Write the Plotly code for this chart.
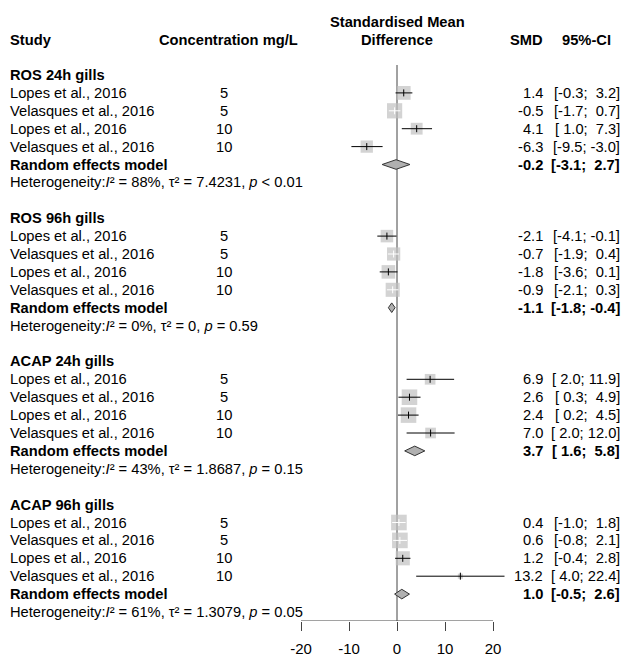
import plotly.graph_objects as go

# ---------------- data ----------------
groups = ["ROS 24h gills", "ROS 96h gills", "ACAP 24h gills", "ACAP 96h gills"]
studies = ["Lopes et al., 2016", "Velasques et al., 2016",
           "Lopes et al., 2016", "Velasques et al., 2016"]
concentrations = ["5", "5", "10", "10"]

smd = [[1.4, -0.5, 4.1, -6.3],
       [-2.1, -0.7, -1.8, -0.9],
       [6.9, 2.6, 2.4, 7.0],
       [0.4, 0.6, 1.2, 13.2]]
ci_lower = [[-0.3, -1.7, 1.0, -9.5],
            [-4.1, -1.9, -3.6, -2.1],
            [2.0, 0.3, 0.2, 2.0],
            [-1.0, -0.8, -0.4, 4.0]]
ci_upper = [[3.2, 0.7, 7.3, -3.0],
            [-0.1, 0.4, 0.1, 0.3],
            [11.9, 4.9, 4.5, 12.0],
            [1.8, 2.1, 2.8, 22.4]]
# relative weights (%) within each subgroup, estimated from square areas
weights = [[26.6, 32.6, 19.6, 21.2],
           [22.0, 24.5, 25.8, 27.7],
           [16.0, 34.0, 34.0, 16.0],
           [34.2, 34.2, 28.0, 3.6]]

re_est = [-0.2, -1.1, 3.7, 1.0]
re_lower = [-3.1, -1.8, 1.6, -0.5]
re_upper = [2.7, -0.4, 5.8, 2.6]

het_i2 = ["88%", "0%", "43%", "61%"]
het_tau2 = ["7.4231", "0", "1.8687", "1.3079"]
het_p = ["&lt; 0.01", "= 0.59", "= 0.15", "= 0.05"]

tick_vals = [-20, -10, 0, 10, 20]
tick_text = ["-20", "-10", "0", "10", "20"]

# ---------------- geometry ----------------
W, H = 624, 657
PX_PER_UNIT = 4.8
ZERO_PX = 397.0
ROW0_PX = 75.0
ROW_H = 17.9
AXIS_PX = 621.0

x_dom_px = (270.0, 520.0)
x_range = [(x_dom_px[0] - ZERO_PX) / PX_PER_UNIT, (x_dom_px[1] - ZERO_PX) / PX_PER_UNIT]
y_top_row = (0 - ROW0_PX) / ROW_H
y_bot_row = (AXIS_PX - ROW0_PX) / ROW_H

FONT = "Liberation Sans, Arial, Helvetica, sans-serif"
FS = 14.7
SQ_K = 2.67
SQUARE_COLOR = "#c0c0c0"
DIAMOND_FILL = "#b0b0b0"

fig = go.Figure()

sq_x, sq_y, sq_s = [], [], []
blk_x, blk_y, wht_x, wht_y = [], [], [], []
blk_tx, blk_ty, wht_tx, wht_ty = [], [], [], []
annotations = []


def ann(px, row, text, anchor="left", bold=False, size=FS):
    if bold:
        text = "<b>" + text + "</b>"
    annotations.append(dict(
        x=px / W, xref="paper", y=row, yref="y", text=text,
        xanchor=anchor, yanchor="middle", showarrow=False,
        borderpad=0, borderwidth=0,
        font=dict(family=FONT, size=size, color="#000000")))


def fmt_ci(lo, hi):
    return ("[%4.1f; %4.1f]" % (lo, hi)).replace(" ", "\u00a0")


# headers
HDR_ROW = (40 - ROW0_PX) / ROW_H
HDR_ROW2 = (22 - ROW0_PX) / ROW_H
ann(10, HDR_ROW, "Study", bold=True)
ann(228, HDR_ROW, "Concentration mg/L", anchor="center", bold=True)
ann(ZERO_PX, HDR_ROW2, "Standardised Mean", anchor="center", bold=True)
ann(ZERO_PX, HDR_ROW, "Difference", anchor="center", bold=True)
ann(543, HDR_ROW, "SMD", anchor="right", bold=True)
ann(611, HDR_ROW, "95%-CI", anchor="right", bold=True)

for g, gname in enumerate(groups):
    base = 8 * g
    ann(10, base, gname, bold=True)
    for i in range(4):
        r = base + 1 + i
        est, lo, hi = smd[g][i], ci_lower[g][i], ci_upper[g][i]
        size = SQ_K * weights[g][i] ** 0.5
        sq_x.append(est); sq_y.append(r); sq_s.append(size)
        half = size / 2 / PX_PER_UNIT
        inside = (lo >= est - half) and (hi <= est + half)
        if inside:
            wht_x += [lo, hi, None]; wht_y += [r, r, None]
            wht_tx.append(est); wht_ty.append(r)
        else:
            blk_x += [lo, hi, None]; blk_y += [r, r, None]
            blk_tx.append(est); blk_ty.append(r)
        ann(10, r, studies[i])
        ann(224, r, concentrations[i], anchor="center")
        ann(543, r, "%.1f" % est, anchor="right")
        ann(620, r, fmt_ci(lo, hi), anchor="right")
    r = base + 5
    ann(10, r, "Random effects model", bold=True)
    ann(543, r, "%.1f" % re_est[g], anchor="right", bold=True)
    ann(620, r, fmt_ci(re_lower[g], re_upper[g]), anchor="right", bold=True)
    dh = 4.8 / ROW_H
    fig.add_trace(go.Scatter(
        x=[re_lower[g], re_est[g], re_upper[g], re_est[g], re_lower[g]],
        y=[r, r - dh, r, r + dh, r],
        mode="lines", fill="toself", fillcolor=DIAMOND_FILL,
        line=dict(color="#333333", width=1), hoverinfo="skip", showlegend=False))
    het = ("Heterogeneity:<i>I</i>\u00b2 = %s, \u03c4\u00b2 = %s, <i>p</i> %s"
           % (het_i2[g], het_tau2[g], het_p[g]))
    ann(10, base + 6, het, size=14.7)

# squares
fig.add_trace(go.Scatter(
    x=sq_x, y=sq_y, mode="markers",
    marker=dict(symbol="square", size=sq_s, color=SQUARE_COLOR, line=dict(width=0)),
    hoverinfo="skip", showlegend=False))
# CI lines
fig.add_trace(go.Scatter(x=blk_x, y=blk_y, mode="lines",
                         line=dict(color="#000000", width=1),
                         hoverinfo="skip", showlegend=False))
fig.add_trace(go.Scatter(x=wht_x, y=wht_y, mode="lines",
                         line=dict(color="#ffffff", width=1),
                         hoverinfo="skip", showlegend=False))
# point-estimate ticks
fig.add_trace(go.Scatter(x=blk_tx, y=blk_ty, mode="markers",
                         marker=dict(symbol="line-ns", size=5,
                                     line=dict(color="#000000", width=1)),
                         hoverinfo="skip", showlegend=False))
fig.add_trace(go.Scatter(x=wht_tx, y=wht_ty, mode="markers",
                         marker=dict(symbol="line-ns", size=5,
                                     line=dict(color="#ffffff", width=1)),
                         hoverinfo="skip", showlegend=False))

shapes = [
    # reference line at 0
    dict(type="line", xref="x", yref="y", x0=0, x1=0,
         y0=(65 - ROW0_PX) / ROW_H, y1=y_bot_row,
         line=dict(color="#444444", width=1), layer="below"),
    # x axis line from -20 to 20
    dict(type="line", xref="x", yref="y", x0=tick_vals[0], x1=tick_vals[-1],
         y0=y_bot_row, y1=y_bot_row, line=dict(color="#444444", width=1)),
]

fig.update_layout(
    width=W, height=H, autosize=False,
    margin=dict(l=0, r=0, t=0, b=0),
    paper_bgcolor="white", plot_bgcolor="rgba(0,0,0,0)",
    showlegend=False,
    annotations=annotations, shapes=shapes,
    xaxis=dict(domain=[x_dom_px[0] / W, x_dom_px[1] / W], range=x_range,
               showgrid=False, zeroline=False, showline=False,
               tickmode="array", tickvals=tick_vals, ticktext=tick_text,
               ticks="outside", ticklen=9, tickwidth=1, tickcolor="#444444",
               ticklabelstandoff=5,
               tickfont=dict(family=FONT, size=15, color="#000000"),
               fixedrange=True),
    yaxis=dict(domain=[(H - AXIS_PX) / H, 1], range=[y_bot_row, y_top_row],
               showgrid=False, zeroline=False, showline=False,
               showticklabels=False, ticks="", fixedrange=True),
)

fig.write_html("out.html")
